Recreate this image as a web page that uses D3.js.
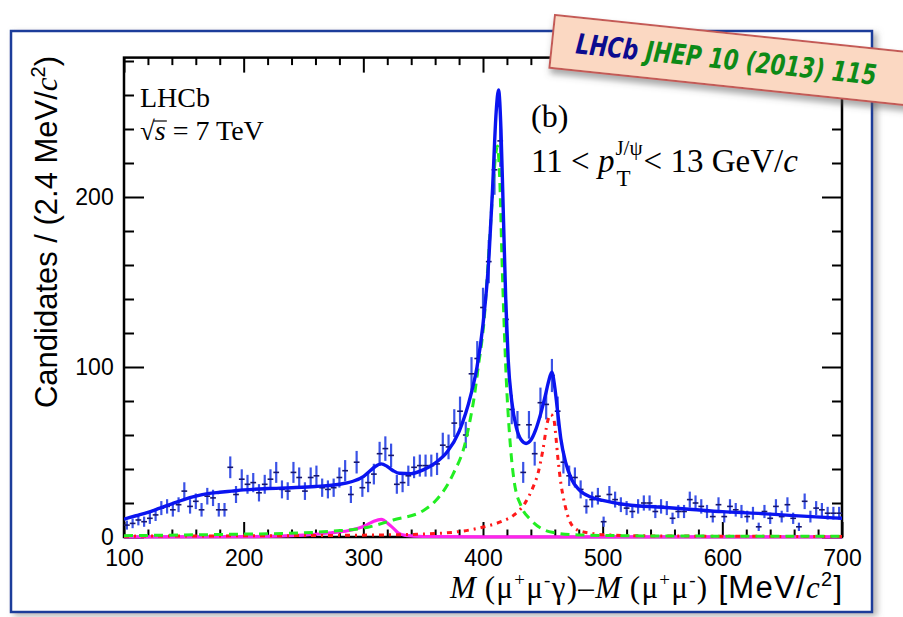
<!DOCTYPE html>
<html>
<head>
<meta charset="utf-8">
<script src="https://cdn.jsdelivr.net/npm/d3@7"></script>
<style>
body { margin: 0; background: #fff; }
svg { display: block; }
</style>
</head>
<body>
<script>
// histogram: 125 bins of 4.8 MeV from 100 to 700
const binLo = 100
const binWidth = 4.8
const counts = [
  7, 8, 10, 9, 11, 13, 17, 18, 16, 19,
  27, 18, 21, 16, 24, 23, 16, 16, 41, 25,
  34, 31, 32, 26, 31, 34, 38, 28, 27, 38,
  35, 27, 35, 36, 29, 28, 29, 35, 39, 25,
  44, 29, 32, 37, 49, 52, 48, 31, 32, 36,
  41, 42, 42, 42, 43, 54, 53, 67, 74, 60,
  96, 105, 135, 162, 216, 233, 128, 75, 66, 38,
  66, 49, 79, 78, 95, 74, 44, 36, 35, 28,
  18, 22, 24, 9, 25, 22, 19, 17, 15, 18,
  20, 20, 15, 18, 17, 11, 15, 15, 22, 20,
  18, 15, 12, 19, 12, 18, 16, 15, 12, 14,
  6, 15, 11, 18, 12, 19, 11, 6, 21, 12,
  17, 16, 14, 14, 14
]

// fit curves: [MeV, candidates]
const totalFit = [
  [100, 10.5], [110, 12.5], [120, 14.5], [130, 17], [140, 19.5], [150, 22], [160, 24],
  [170, 25.5], [180, 26.3], [190, 27], [200, 27.7], [220, 28.5], [240, 29], [260, 29.7],
  [280, 31], [290, 32.5], [300, 35.5], [305, 38.5], [310, 41.5], [315, 43], [320, 41.5],
  [325, 39], [330, 37.5], [340, 37.3], [350, 39.5], [360, 43.5], [370, 50], [380, 62],
  [390, 84], [395, 100], [400, 125], [405, 165], [408, 205], [411, 250], [413, 263],
  [415, 240], [417, 190], [419, 140], [421, 105], [424, 80], [428, 64], [432, 57],
  [436, 55], [440, 57], [444, 63], [448, 72], [452, 83], [455, 92], [457.5, 97],
  [460, 88], [462, 76], [465, 58], [469, 44], [474, 34], [480, 28], [490, 23.5],
  [500, 21.5], [520, 19], [550, 17.5], [575, 16.2], [600, 14.9], [630, 13.9],
  [660, 12.6], [700, 11]
]
const chic1Fit = [
  [100, 0.8], [150, 1.2], [200, 1.7], [245, 2.3], [275, 3.5], [300, 5.2], [325, 10],
  [350, 15.5], [360, 21], [375, 37], [385, 55], [389, 68], [393, 84], [396, 100],
  [399, 115], [401, 128], [403, 148], [406, 180], [408.5, 207], [410.5, 224], [412, 230],
  [414, 210], [416, 160], [418, 118], [419.5, 92], [422, 62], [426, 33], [432, 18],
  [440, 10], [451, 4.2], [460, 2.5], [480, 1.2], [550, 0.6], [700, 0.4]
]
const chic2Fit = [
  [100, 0.5], [200, 0.7], [300, 1.1], [345, 1.6], [379, 3.1], [401, 6], [415, 9],
  [426, 13], [435, 19.8], [442, 29.6], [446, 37.5], [450, 51], [454, 68], [456.5, 72],
  [459, 70], [460.5, 62], [462.5, 47], [465, 32], [467, 23.7], [469.5, 15.9], [472, 10],
  [479, 4.1], [490, 2.2], [504, 1.2], [550, 0.6], [700, 0.3]
]
const chic0Fit = [
  [100, 0.1], [200, 0.2], [250, 1.1], [273, 2.5], [287, 3.7], [301, 6.5], [308, 9],
  [315, 10.4], [322, 7], [326, 4.5], [329, 2.5], [335, 1.0], [350, 0.3], [400, 0.1],
  [500, 0.1], [700, 0.1]
]

const xMajor = [100, 200, 300, 400, 500, 600, 700]
const yMajor = [0, 100, 200]

const W = 903, H = 617
const sans = '"Liberation Sans", Arial, sans-serif'
const serif = '"Liberation Serif", "Times New Roman", serif'

const svg = d3.select('body').append('svg')
  .attr('width', W)
  .attr('height', H)
  .style('font-family', sans)

const defs = svg.append('defs')
defs.append('filter').attr('id', 'shadow')
  .attr('x', '-5%').attr('y', '-5%').attr('width', '112%').attr('height', '112%')
  .append('feDropShadow')
  .attr('dx', 4).attr('dy', 3).attr('stdDeviation', 3)
  .attr('flood-color', '#777').attr('flood-opacity', 0.55)
defs.append('clipPath').attr('id', 'plotclip')
  .append('rect').attr('x', 124).attr('y', 57).attr('width', 718).attr('height', 482)

// outer slide frame
svg.append('rect')
  .attr('x', 11).attr('y', 31)
  .attr('width', 861).attr('height', 581)
  .attr('fill', '#fff')
  .attr('stroke', '#1d3d9a')
  .attr('stroke-width', 2.5)
  .attr('filter', 'url(#shadow)')

let x = d3.scaleLinear().domain([100, 700]).range([124, 842])
let y = d3.scaleLinear().domain([0, 282]).range([537, 57.6])

const minorX = d3.range(100, 701, 20).filter(v => v % 100 !== 0)
const minorY = d3.range(0, 282, 20).filter(v => v % 100 !== 0)

// ticks, all pointing inwards
function tickAxis(axis, transform, values, size, labels) {
  let g = svg.append('g')
    .attr('transform', transform)
    .call(axis.tickValues(values).tickSize(size).tickPadding(8)
      .tickFormat(labels ? d3.format('d') : ''))
  g.select('.domain').remove()
  g.selectAll('line').attr('stroke', '#000').attr('stroke-width', 2)
  g.selectAll('text').attr('fill', '#000').style('font-family', sans).style('font-size', '23px')
  return g
}

let xb = tickAxis(d3.axisBottom(x), 'translate(0,537)', xMajor, -15, true)
xb.selectAll('text').attr('dy', '0.9em')
tickAxis(d3.axisBottom(x), 'translate(0,537)', minorX, -7.5, false)
tickAxis(d3.axisTop(x), 'translate(0,57.6)', xMajor, -15, false)
tickAxis(d3.axisTop(x), 'translate(0,57.6)', minorX, -7.5, false)
let yl = tickAxis(d3.axisLeft(y), 'translate(124,0)', yMajor, -20, true)
yl.selectAll('text').attr('dx', '-0.1em')
tickAxis(d3.axisLeft(y), 'translate(124,0)', minorY, -10, false)
tickAxis(d3.axisRight(y), 'translate(842,0)', yMajor, -20, false)
tickAxis(d3.axisRight(y), 'translate(842,0)', minorY, -10, false)

svg.append('rect')
  .attr('x', 124).attr('y', 57.6)
  .attr('width', 718).attr('height', 537 - 57.6)
  .attr('fill', 'none')
  .attr('stroke', '#000')
  .attr('stroke-width', 2.5)

let plot = svg.append('g').attr('clip-path', 'url(#plotclip)')

let line = d3.line()
  .x(d => x(d[0]))
  .y(d => y(d[1]))
  .curve(d3.curveMonotoneX)

// data points with poisson errors
let bins = counts.map((n, i) => ({ c: binLo + binWidth * (i + 0.5), n: n, e: Math.sqrt(n) }))

let pts = plot.append('g').selectAll('g')
  .data(bins)
  .enter()
  .append('g')

pts.append('line')
  .attr('x1', d => x(d.c)).attr('x2', d => x(d.c))
  .attr('y1', d => y(d.n - d.e)).attr('y2', d => y(d.n + d.e))
  .attr('stroke', '#3a52e6')
  .attr('stroke-width', 2.2)

pts.append('line')
  .attr('x1', d => x(d.c - binWidth / 2)).attr('x2', d => x(d.c + binWidth / 2))
  .attr('y1', d => y(d.n)).attr('y2', d => y(d.n))
  .attr('stroke', '#16166e')
  .attr('stroke-width', 1.6)

plot.append('path').datum(chic0Fit)
  .attr('d', line).attr('fill', 'none')
  .attr('stroke', '#ff22ee').attr('stroke-width', 3.2)

plot.append('path').datum(chic2Fit)
  .attr('d', line).attr('fill', 'none')
  .attr('stroke', '#ff1a1a').attr('stroke-width', 3)
  .attr('stroke-dasharray', '5,5,2,5')

plot.append('path').datum(chic1Fit)
  .attr('d', line).attr('fill', 'none')
  .attr('stroke', '#22ee22').attr('stroke-width', 3)
  .attr('stroke-dasharray', '9,6')

plot.append('path').datum(totalFit)
  .attr('d', line).attr('fill', 'none')
  .attr('stroke', '#0a14f0').attr('stroke-width', 3.4)

// text with sub/superscripts built from tspans
function rich(parent, px, py, parts, anchor, size) {
  let t = parent.append('text').attr('x', px).attr('y', py)
    .attr('text-anchor', anchor || 'start')
  let shift = 0
  parts.forEach(p => {
    let s = t.append('tspan').text(p.t)
      .style('font-family', p.f || sans)
      .style('font-size', (p.s || size || 30) + 'px')
    if (p.i) s.style('font-style', 'italic')
    let target = p.dy || 0
    if (target !== shift) {
      s.attr('dy', target - shift)
      shift = target
    }
  })
  return t
}

// y axis title
let yt = svg.append('g').attr('transform', 'translate(57,56) rotate(-90)')
rich(yt, 0, 0, [
  { t: 'Candidates / (2.4 MeV/' },
  { t: 'c', f: serif, i: true },
  { t: '2', s: 20, dy: -12 },
  { t: ')' }
], 'end', 31).attr('textLength', 352)

// x axis title
rich(svg, 842, 598, [
  { t: 'M', f: serif, i: true },
  { t: '\u2009(\u03bc', f: serif },
  { t: '+', f: serif, s: 19, dy: -12 },
  { t: '\u03bc', f: serif },
  { t: '-', f: serif, s: 19, dy: -12 },
  { t: '\u03b3)\u2013', f: serif },
  { t: 'M', f: serif, i: true },
  { t: '\u2009(\u03bc', f: serif },
  { t: '+', f: serif, s: 19, dy: -12 },
  { t: '\u03bc', f: serif },
  { t: '-', f: serif, s: 19, dy: -12 },
  { t: ')', f: serif },
  { t: '  [MeV/' },
  { t: 'c', f: serif, i: true },
  { t: '2', s: 20, dy: -12 },
  { t: ']' }
], 'end', 31).attr('textLength', 392)

// LHCb label
svg.append('text').attr('x', 140).attr('y', 107)
  .style('font-family', serif).style('font-size', '28px').text('LHCb')
let sq = svg.append('text').attr('x', 140).attr('y', 140)
  .style('font-family', serif).style('font-size', '27px').text('\u221a')
let sqw = sq.node().getComputedTextLength()
rich(svg, 140 + sqw, 140, [
  { t: 's', f: serif, i: true },
  { t: ' = 7 TeV', f: serif }
], 'start', 28)
svg.append('line')
  .attr('x1', 140 + sqw - 1).attr('x2', 140 + sqw + 12)
  .attr('y1', 121).attr('y2', 121)
  .attr('stroke', '#000').attr('stroke-width', 1.2)

// panel label and pT bin
svg.append('text').attr('x', 531).attr('y', 127)
  .style('font-family', serif).style('font-size', '32px').text('(b)')
let p1 = rich(svg, 531, 172, [
  { t: '11 < ', f: serif },
  { t: 'p', f: serif, i: true }
], 'start', 33)
let p1w = p1.node().getComputedTextLength()
let sup = svg.append('text').attr('x', 531 + p1w + 1).attr('y', 155)
  .style('font-family', serif).style('font-size', '21px').text('J/\u03c8')
svg.append('text').attr('x', 531 + p1w + 2).attr('y', 186)
  .style('font-family', serif).style('font-size', '23px').text('T')
let supw = sup.node().getComputedTextLength()
rich(svg, 531 + p1w + supw + 2, 172, [
  { t: '< 13 GeV/', f: serif },
  { t: 'c', f: serif, i: true }
], 'start', 33)

// journal badge
defs.append('filter').attr('id', 'bshadow')
  .attr('x', '-5%').attr('y', '-20%').attr('width', '115%').attr('height', '160%')
  .append('feDropShadow')
  .attr('dx', 2).attr('dy', 5).attr('stdDeviation', 3)
  .attr('flood-color', '#555').attr('flood-opacity', 0.5)

let badge = svg.append('g').attr('transform', 'translate(555,15) rotate(6)')
badge.append('rect')
  .attr('width', 390).attr('height', 53)
  .attr('fill', '#fbd8c2')
  .attr('stroke', '#c45a56')
  .attr('stroke-width', 2)
  .attr('filter', 'url(#bshadow)')
let bt = badge.append('text').attr('x', 24).attr('y', 36)
  .style('font-family', '"DejaVu Sans", sans-serif')
  .style('font-style', 'italic')
  .style('font-weight', 'bold')
  .style('font-size', '28px')
  .attr('textLength', 302)
  .attr('lengthAdjust', 'spacingAndGlyphs')
bt.append('tspan').attr('fill', '#0b0b8f').text('LHCb')
bt.append('tspan').attr('fill', '#0d8a17').text(' JHEP 10 (2013) 115')
</script>
</body>
</html>
